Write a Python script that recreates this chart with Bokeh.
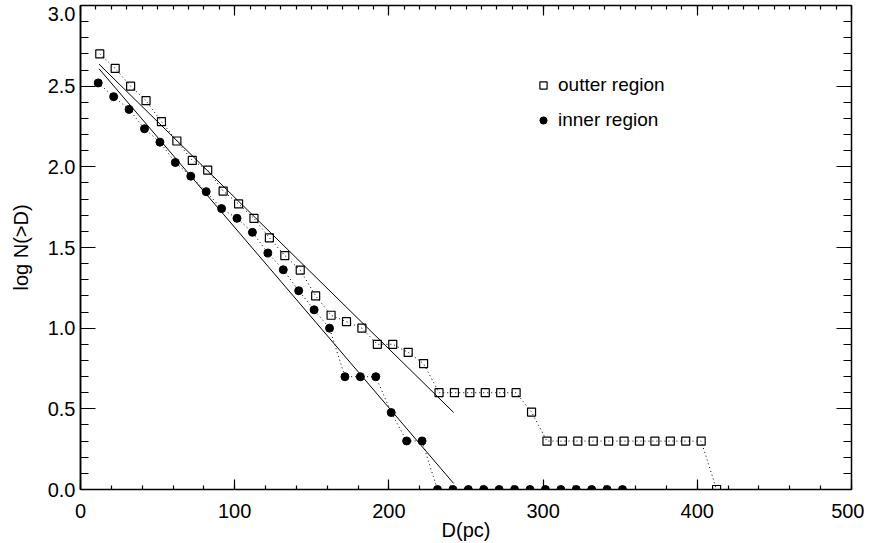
from bokeh.plotting import figure
from bokeh.models import (Range1d, LinearAxis, SingleIntervalTicker, FixedTicker,
                          Legend, LegendItem)
from bokeh.embed import file_html
from bokeh.resources import INLINE
import numpy as np

# ---- data ----
outer_d = [12.5, 22.5, 32.5, 42.5, 52.5, 62.5, 72.5, 82.5, 92.5, 102.5,
           112.5, 122.5, 132.5, 142.5, 152.5, 162.5, 172.5, 182.5, 192.5, 202.5,
           212.5, 222.5, 232.5, 242.5, 252.5, 262.5, 272.5, 282.5, 292.5, 302.5,
           312.5, 322.5, 332.5, 342.5, 352.5, 362.5, 372.5, 382.5, 392.5, 402.5,
           412.5]
outer_logn = [2.70, 2.61, 2.50, 2.41, 2.28, 2.16, 2.04, 1.98, 1.85, 1.77,
              1.68, 1.56, 1.45, 1.36, 1.20, 1.08, 1.04, 1.00, 0.90, 0.90,
              0.85, 0.78, 0.60, 0.60, 0.60, 0.60, 0.60, 0.60, 0.48, 0.30,
              0.30, 0.30, 0.30, 0.30, 0.30, 0.30, 0.30, 0.30, 0.30, 0.30,
              0.0]

inner_d = [11.5, 21.5, 31.5, 41.5, 51.5, 61.5, 71.5, 81.5, 91.5, 101.5,
           111.5, 121.5, 131.5, 141.5, 151.5, 161.5, 171.5, 181.5, 191.5, 201.5,
           211.5, 221.5, 231.5, 241.5, 251.5, 261.5, 271.5, 281.5, 291.5, 301.5,
           311.5, 321.5, 331.5, 341.5, 351.5]
inner_logn = [2.52, 2.435, 2.356, 2.236, 2.153, 2.027, 1.942, 1.846, 1.741, 1.681,
              1.594, 1.466, 1.362, 1.232, 1.114, 1.00, 0.699, 0.699, 0.699, 0.477,
              0.301, 0.301, 0.0, 0.0, 0.0, 0.0, 0.0, 0.0, 0.0, 0.0,
              0.0, 0.0, 0.0, 0.0, 0.0]

# linear fits: log N = intercept + slope * D over the fitted range
fit_range = [12.0, 242.0]
outer_fit = {"intercept": 2.749, "slope": -0.009387}
inner_fit = {"intercept": 2.742, "slope": -0.011176}

x_ticks_interval = 100
y_ticks_interval = 0.5
y_max = 3.0
# y tick labels; the top one is printed slightly below its tick, as in the reference
y_label_values = [0.0, 0.5, 1.0, 1.5, 2.0, 2.5, 2.95]
y_label_texts = ["0.0", "0.5", "1.0", "1.5", "2.0", "2.5", "3.0"]

FONT = "Liberation Sans"

p = figure(width=864, height=543, output_backend="svg", toolbar_location=None,
           x_range=Range1d(0, 500), y_range=Range1d(0, y_max),
           min_border_left=80, min_border_right=13, min_border_top=5,
           min_border_bottom=54, y_axis_location=None,
           x_axis_label="D(pc)")
p.outline_line_color = None
p.xgrid.grid_line_color = None
p.ygrid.grid_line_color = None
p.background_fill_color = "white"
p.border_fill_color = "white"

xt = SingleIntervalTicker(interval=x_ticks_interval, num_minor_ticks=10)
yt = SingleIntervalTicker(interval=y_ticks_interval, num_minor_ticks=5)

# left: an axis carrying the tick marks (next to the frame) and one carrying the labels
left_ticks = LinearAxis(ticker=yt)
left_labels = LinearAxis(
    ticker=FixedTicker(ticks=y_label_values, minor_ticks=[]),
    major_label_overrides={v: t for v, t in zip(y_label_values, y_label_texts)},
    axis_label="log N(>D)")
p.add_layout(left_ticks, "left")
p.add_layout(left_labels, "left")

top = LinearAxis(ticker=xt)
right = LinearAxis(ticker=yt)
p.add_layout(top, "above")
p.add_layout(right, "right")

p.xaxis[0].ticker = xt


def style(ax, major, minor):
    ax.axis_line_color = "black"
    ax.axis_line_width = 1.5
    ax.major_tick_line_color = "black"
    ax.minor_tick_line_color = "black"
    ax.major_tick_line_width = 1.2
    ax.minor_tick_line_width = 1.2
    ax.major_tick_in = major
    ax.major_tick_out = 0
    ax.minor_tick_in = minor
    ax.minor_tick_out = 0
    ax.major_label_text_font = FONT
    ax.major_label_text_font_size = "20px"
    ax.major_label_text_color = "black"
    ax.axis_label_text_font = FONT
    ax.axis_label_text_font_size = "20px"
    ax.axis_label_text_font_style = "normal"
    ax.axis_label_text_color = "black"


style(p.below[0], 10, 4)
style(left_ticks, 15, 8)
style(left_labels, 0, 0)
style(top, 10, 4)
style(right, 15, 8)
left_labels.major_tick_line_color = None
left_labels.minor_tick_line_color = None
p.below[0].major_label_standoff = 14
p.below[0].axis_label_standoff = -2
left_labels.major_label_standoff = 5
left_labels.axis_label_standoff = 13
for ax in (top, right, left_ticks):
    ax.major_label_text_font_size = "0px"
    ax.major_label_standoff = 0
    ax.major_label_text_alpha = 0

# dotted connecting lines
p.line(outer_d, outer_logn, line_color="black", line_width=1, line_dash="1 3")
p.line(inner_d, inner_logn, line_color="black", line_width=1, line_dash="1 3")

# fit lines
fx = np.array(fit_range)
p.line(fx, outer_fit["intercept"] + outer_fit["slope"] * fx, line_color="black", line_width=1)
p.line(fx, inner_fit["intercept"] + inner_fit["slope"] * fx, line_color="black", line_width=1)

# markers
so = p.scatter(outer_d, outer_logn, marker="square", size=8, fill_color=None,
               line_color="black", line_width=1.2)
si = p.scatter(inner_d, inner_logn, marker="circle", size=8, fill_color="black",
               line_color="black", line_width=1)

legend = Legend(items=[LegendItem(label="outter region", renderers=[so]),
                       LegendItem(label="inner region", renderers=[si])],
                location=(454, 358), border_line_color=None,
                background_fill_alpha=0, padding=0, spacing=13,
                glyph_width=18, glyph_height=18, label_standoff=6,
                label_height=20, label_text_font=FONT,
                label_text_font_size="19px", label_text_color="black")
p.add_layout(legend)

open("out.html", "w").write(file_html(p, INLINE))
